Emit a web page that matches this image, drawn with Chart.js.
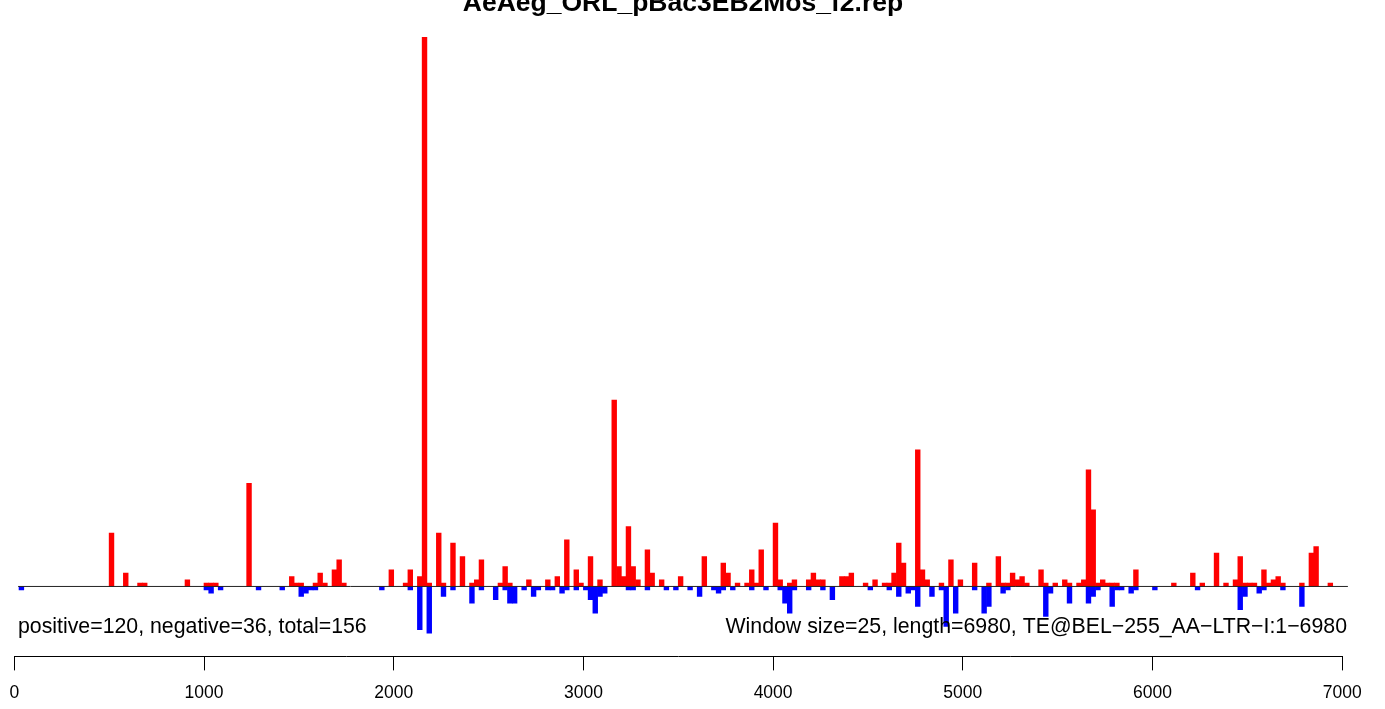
<!DOCTYPE html>
<html>
<head>
<meta charset="utf-8">
<script src="https://cdn.jsdelivr.net/npm/chart.js@4.4.1/dist/chart.umd.min.js"></script>
<style>
  html, body { margin: 0; padding: 0; background: #fff; }
  #wrap { width: 1385px; height: 709px; }
</style>
</head>
<body>
<div id="wrap"><canvas id="rep" width="1385" height="709"></canvas></div>
<script>
// windows of 25 bp along the 6980 bp consensus: index of window -> read count
const WINDOW = 25;
const xTicks = [0, 1000, 2000, 3000, 4000, 5000, 6000, 7000];

// forward strand hits (red, above the line)
const posBins = [20, 23, 26, 27, 36, 40, 41, 42,
  49, 58, 59, 60, 63, 64, 65, 67, 68, 69, 79, 82, 83, 85, 86, 87, 89, 90, 92, 94,
  96, 97, 98, 102, 103, 104, 108, 112, 114, 116, 118, 119, 121, 123, 126, 127, 128, 129, 130, 131, 133, 134, 136, 140,
  145, 149, 150, 152, 154, 155, 156, 157, 160, 161, 163, 164, 167, 168, 169, 170, 174, 175, 176, 179, 181, 183, 184, 185, 186, 187, 190, 191, 192,
  195, 197, 199, 202, 205, 207, 208, 209, 210, 211, 212, 213, 216, 217, 219, 221, 222, 224, 225, 226, 227, 228, 229, 230, 231, 232, 236,
  244, 248, 250, 253, 255, 257, 258, 259, 260, 261, 263, 264, 265, 266, 267, 271, 273, 274, 277];
const posCounts = [16, 4, 1, 1, 2, 1, 1, 1,
  31, 3, 1, 1, 1, 4, 1, 5, 8, 1, 5, 1, 5, 3, 165, 1, 16, 1, 13, 9,
  1, 2, 8, 1, 6, 1, 2, 2, 3, 14, 5, 1, 9, 2, 56, 6, 3, 18, 6, 2, 11, 4, 2, 3,
  9, 7, 4, 1, 1, 5, 1, 11, 19, 2, 1, 2, 2, 4, 2, 2, 3, 3, 4, 1, 2, 1, 1, 4, 13, 7, 41, 5, 2,
  1, 8, 2, 7, 1, 9, 1, 1, 4, 2, 3, 1, 5, 1, 1, 2, 1, 1, 2, 35, 23, 1, 2, 1, 1, 1, 5,
  1, 4, 1, 10, 1, 2, 9, 1, 1, 1, 5, 1, 2, 3, 1, 1, 10, 12, 1];

// reverse strand hits (blue, below the line)
const negBins = [1, 40, 41, 43, 51, 56, 60, 61, 62, 63, 77, 83, 85, 87, 90, 92,
  96, 98, 101, 103, 104, 105, 107, 109, 110, 112, 113, 115, 116, 118, 120, 121, 122, 123, 124, 129, 130, 133, 137, 139, 142,
  144, 147, 148, 149, 151, 155, 158, 161, 162, 163, 164, 167, 170, 172, 180, 184, 186, 188, 189, 190,
  193, 195, 196, 198, 202, 204, 205, 208, 209, 217, 218, 222, 226, 227, 228, 231, 232, 233, 235, 236, 240,
  249, 258, 259, 262, 263, 267, 271];
const negCounts = [-1, -1, -2, -1, -1, -1, -3, -2, -1, -1, -1, -1, -13, -14, -3, -1,
  -5, -1, -4, -1, -5, -5, -1, -3, -1, -1, -1, -2, -1, -1, -1, -4, -8, -3, -2, -1, -1, -1, -1, -1, -1,
  -3, -1, -2, -1, -1, -1, -1, -1, -5, -8, -1, -1, -1, -4, -1, -1, -3, -2, -1, -6,
  -3, -1, -12, -8, -1, -8, -6, -2, -1, -9, -2, -5, -5, -3, -1, -6, -1, -1, -2, -1, -1,
  -1, -7, -3, -2, -1, -1, -6];

// zero line runs a little past both ends of the axis
const zeroLineX = [20, 7030];

const titleText = 'AeAeg_ORL_pBac3EB2Mos_f2.rep';
const noteLeft = 'positive=120, negative=36, total=156';
const noteRight = 'Window size=25, length=6980, TE@BEL\u2212255_AA\u2212LTR\u2212I:1\u22126980';

const FONT = '"Liberation Sans", Arial, Helvetica, sans-serif';

const RepPlot = {
  chart: null,

  points(bins, counts) {
    return bins.map((b, k) => ({ x: b * WINDOW + WINDOW / 2, y: counts[k] }));
  },

  // title + the two notes under the zero line, R style
  notes: {
    id: 'repNotes',
    afterDraw(chart) {
      const ctx = chart.ctx;
      ctx.save();
      ctx.fillStyle = '#000';
      ctx.textBaseline = 'alphabetic';
      ctx.font = `bold 26.5px ${FONT}`;
      ctx.textAlign = 'center';
      ctx.fillText(titleText, 683, 11);
      ctx.font = `21.3px ${FONT}`;
      ctx.textAlign = 'left';
      ctx.fillText(noteLeft, 18, 633);
      ctx.textAlign = 'right';
      ctx.fillText(noteRight, 1347, 633);
      ctx.restore();
    }
  },

  init() {
    Chart.defaults.font.family = FONT;
    this.chart = new Chart(document.getElementById('rep'), {
      data: {
        datasets: [
          {
            type: 'line',
            data: zeroLineX.map(x => ({ x, y: 0 })),
            borderColor: '#222',
            borderWidth: 1,
            pointRadius: 0,
            clip: false,
            order: 0
          },
          {
            type: 'bar',
            data: this.points(posBins, posCounts),
            backgroundColor: '#ff0000',
            grouped: false,
            barPercentage: 1,
            categoryPercentage: 1,
            order: 1
          },
          {
            type: 'bar',
            data: this.points(negBins, negCounts),
            backgroundColor: '#0000ff',
            grouped: false,
            barPercentage: 1,
            categoryPercentage: 1,
            order: 1
          }
        ]
      },
      options: {
        responsive: false,
        animation: false,
        events: [],
        layout: { padding: { left: 14.3, right: 42.8, top: 37, bottom: -6.4 } },
        plugins: { legend: { display: false }, tooltip: { enabled: false } },
        scales: {
          x: {
            type: 'linear',
            offset: false,
            min: 0,
            max: 7000,
            afterBuildTicks: s => { s.ticks = xTicks.map(v => ({ value: v })); },
            // labels may hang past the ends, like R's axis; don't shrink the plot for them
            afterFit: s => { s.paddingLeft = 0; s.paddingRight = 0; },
            grid: { display: true, offset: false, drawOnChartArea: false, drawTicks: true, tickLength: 14, color: '#000', lineWidth: 1 },
            border: { display: true, color: '#000', width: 1 },
            ticks: { color: '#000', padding: 12, maxRotation: 0, font: { size: 17.5 }, callback: v => String(v) }
          },
          y: { display: false, min: -21, max: 165 }
        }
      },
      plugins: [this.notes]
    });
  }
};

RepPlot.init();
</script>
</body>
</html>
